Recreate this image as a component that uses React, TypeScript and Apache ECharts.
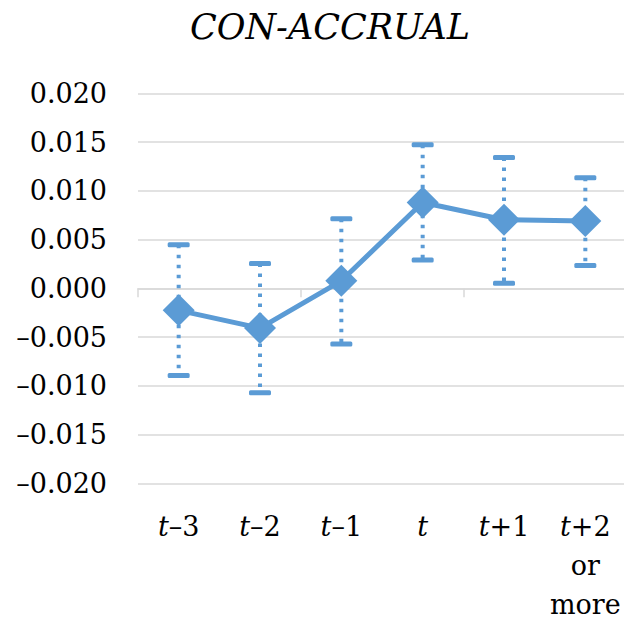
import React, { useEffect, useRef } from "react";
import * as echarts from "echarts";

const categories = ["t–3", "t–2", "t–1", "t", "t+1", "t+2 or more"];
const meanValues = [-0.00226, -0.00408, 0.00077, 0.0088, 0.00703, 0.00689];
const lowerValues = [-0.00894, -0.01072, -0.0057, 0.00289, 0.00053, 0.00234];
const upperValues = [0.00446, 0.00254, 0.00713, 0.01472, 0.01342, 0.01134];
const yMin = -0.02;
const yMax = 0.02;
const yStep = 0.005;
const titleText = "CON-ACCRUAL";

const BLUE = "#5B9BD5";
const GRID = "#D9D9D9";
const FONT = "DejaVu Serif";

function formatCategory(c: string): string {
  if (c === "t") return "{i|t}";
  if (c.startsWith("t+2")) return "{i|t}{n|+2}\n{n|or}\n{n|more}";
  return "{i|t}{n|" + c.slice(1) + "}";
}

export default function App() {
  const ref = useRef<HTMLDivElement>(null);
  useEffect(() => {
    if (!ref.current) return;
    const chart = echarts.init(ref.current, undefined, { renderer: "svg" });
    const errData = categories.map((_, i) => [i, lowerValues[i], upperValues[i]]);
    chart.setOption({
      animation: false,
      backgroundColor: "#ffffff",
      textStyle: { fontFamily: FONT },
      title: {
        text: titleText,
        left: 190,
        top: 9,
        padding: 0,
        textStyle: {
          fontFamily: FONT,
          fontStyle: "italic",
          fontWeight: "normal",
          fontSize: 35,
          color: "#000",
        },
      },
      grid: {
        left: 138,
        top: 93.3,
        width: 488,
        height: 390,
        containLabel: false,
        outerBoundsMode: "none",
      },
      xAxis: [
        {
          type: "category",
          data: categories,
          position: "bottom",
          axisLine: { show: true, onZero: true, lineStyle: { color: GRID, width: 1.5 } },
          axisTick: { show: true, length: 9, lineStyle: { color: GRID, width: 1.5 } },
          axisLabel: { show: false },
          splitLine: { show: false },
        },
        {
          type: "category",
          data: categories,
          position: "bottom",
          axisLine: { show: false, onZero: false },
          axisTick: { show: false },
          splitLine: { show: false },
          axisLabel: {
            show: true,
            margin: 24,
            interval: 0,
            fontFamily: FONT,
            formatter: (v: string) => formatCategory(v),
            rich: {
              i: { fontFamily: FONT, fontStyle: "italic", fontSize: 27, color: "#000", lineHeight: 39 },
              n: { fontFamily: FONT, fontSize: 27, color: "#000", lineHeight: 39 },
            },
          },
        },
      ],
      yAxis: {
        type: "value",
        min: yMin,
        max: yMax,
        interval: yStep,
        axisLine: { show: false },
        axisTick: { show: false },
        splitLine: { show: true, lineStyle: { color: GRID, width: 1.5 } },
        axisLabel: {
          margin: 31,
          fontFamily: FONT,
          fontSize: 27,
          color: "#000",
          formatter: (v: number) => {
            const s = Math.abs(v).toFixed(3);
            return v < -1e-9 ? "–" + s : s;
          },
        },
      },
      series: [
        {
          type: "custom",
          xAxisIndex: 0,
          z: 1,
          data: errData,
          renderItem: (params: any, api: any) => {
            const x = api.value(0);
            const lo = api.coord([x, api.value(1)]);
            const hi = api.coord([x, api.value(2)]);
            const capW = 22;
            const capH = 5;
            return {
              type: "group",
              children: [
                {
                  type: "line",
                  shape: { x1: hi[0], y1: hi[1], x2: lo[0], y2: lo[1] },
                  style: { stroke: BLUE, lineWidth: 4, lineDash: [3.5, 6.5] },
                },
                {
                  type: "rect",
                  shape: { x: hi[0] - capW / 2, y: hi[1] - capH / 2, width: capW, height: capH, r: 1.5 },
                  style: { fill: BLUE },
                },
                {
                  type: "rect",
                  shape: { x: lo[0] - capW / 2, y: lo[1] - capH / 2, width: capW, height: capH, r: 1.5 },
                  style: { fill: BLUE },
                },
              ],
            };
          },
        },
        {
          type: "line",
          xAxisIndex: 0,
          z: 3,
          data: meanValues,
          symbol: "diamond",
          symbolSize: 32,
          lineStyle: { color: BLUE, width: 5 },
          itemStyle: { color: BLUE },
        },
      ],
    });
    return () => chart.dispose();
  }, []);
  return (
    <div
      ref={ref}
      style={{ position: "fixed", left: 0, top: 0, width: 624, height: 619, background: "#fff" }}
    />
  );
}
